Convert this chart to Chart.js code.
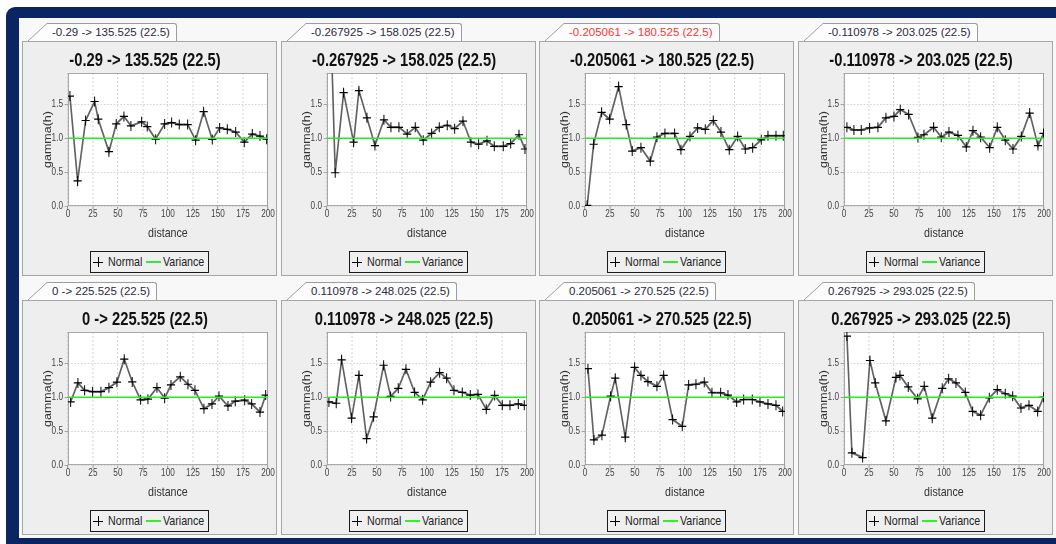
<!DOCTYPE html>
<html lang="en">
<head>
  <meta charset="UTF-8">
  <title>Variogram directions</title>
  <script src="https://cdn.jsdelivr.net/npm/chart.js"></script>
  <style>
    body { margin: 0; width: 1056px; height: 544px; overflow: hidden; background: #fff; position: relative; font-family: 'Liberation Sans', Arial, sans-serif; }
    .frame { position: absolute; left: 6px; top: 7px; width: 1100px; height: 600px; background: #0b2462; border-radius: 9px; }
    .desk { position: absolute; left: 19px; top: 18px; width: 1037px; height: 520px; background: #f8f8f8; }
    .panel { position: absolute; width: 255px; height: 235px; background: #eeeeee; box-shadow: inset 0 0 0 1px #a6a6a6; }
    .panel canvas { position: absolute; left: 0; top: 0; }
    .tab { position: absolute; left: 6px; top: -18px; height: 18px; display: flex; }
    .tab svg { display: block; }
    .tab span { display: block; height: 17px; line-height: 17px; padding: 0 6px 0 5px; background: #fdfdfd; border-top: 1px solid #9c9c9c; border-right: 1px solid #9c9c9c; border-top-right-radius: 3px; font-size: 11.5px; color: #2b2b3b; white-space: nowrap; }
    .tab.sel span { color: #ff3333; }
    .legend { position: absolute; left: 68px; top: 210px; width: 117px; height: 20px; border: 1px solid #1a1a1a; background: #efefef; font-size: 13px; color: #222; }
    .legend span { position: absolute; top: 0; line-height: 20px; white-space: nowrap; transform: scaleX(0.82); transform-origin: 0 50%; }
    .cross { position: absolute; left: 2px; top: 5px; width: 10px; height: 10px; background: linear-gradient(#000, #000) center / 10px 1px no-repeat, linear-gradient(#000, #000) center / 1px 10px no-repeat; }
    .gline { position: absolute; left: 55px; top: 9px; width: 15px; height: 2px; background: #33ee33; }
  </style>
</head>
<body>
  <div class="frame"></div>
  <div class="desk"></div>
  <div id="panels"></div>

  <script>
    const panelTitles = [
      '-0.29 -> 135.525 (22.5)', '-0.267925 -> 158.025 (22.5)', '-0.205061 -> 180.525 (22.5)', '-0.110978 -> 203.025 (22.5)',
      '0 -> 225.525 (22.5)', '0.110978 -> 248.025 (22.5)', '0.205061 -> 270.525 (22.5)', '0.267925 -> 293.025 (22.5)'
    ];
    const seriesNames = ['Normal', 'Variance'];
    const xTicks = [0, 25, 50, 75, 100, 125, 150, 175, 200];
    const yTicks = [0, 0.5, 1.0, 1.5];
    const varianceDist = [0, 200];
    const varianceGamma = [1, 1];

    const dist1 = [2, 9.7, 17.7, 26.7, 30.3, 41, 48.3, 56, 63, 73.7, 79.3, 87.7, 96.7, 103.7, 111.3, 119.7, 127.7, 135.7, 144.3, 151.7, 159.3, 167.7, 176.3, 184.3, 192, 198.7];
    const gam1 = [1.62, 0.37, 1.26, 1.54, 1.28, 0.80, 1.21, 1.32, 1.18, 1.24, 1.17, 0.985, 1.21, 1.23, 1.20, 1.20, 0.97, 1.39, 0.98, 1.15, 1.13, 1.09, 0.94, 1.06, 1.03, 0.985];

    const dist2 = [3, 8.3, 16.7, 26.7, 32, 40, 48, 57, 64, 72, 80.3, 88.3, 96.3, 104.7, 112.3, 120.3, 127.7, 136, 144, 151.7, 160, 167.3, 176.3, 183.7, 192, 198];
    const gam2 = [3.1, 0.49, 1.67, 0.94, 1.70, 1.30, 0.89, 1.27, 1.16, 1.16, 1.06, 1.16, 0.97, 1.07, 1.16, 1.19, 1.14, 1.25, 0.94, 0.91, 0.96, 0.88, 0.88, 0.92, 1.05, 0.84];

    const dist3 = [2.3, 8.7, 16.7, 24.7, 33.7, 41.3, 47.3, 56, 65.3, 72, 80, 89.7, 96, 105, 112.7, 120.3, 128.3, 136, 144.3, 152.7, 160.3, 167.7, 176.3, 183, 191, 198.3];
    const gam3 = [0.01, 0.91, 1.38, 1.28, 1.76, 1.20, 0.81, 0.86, 0.66, 1.015, 1.07, 1.07, 0.83, 1.025, 1.15, 1.13, 1.26, 1.09, 0.83, 1.025, 0.84, 0.86, 0.975, 1.035, 1.035, 1.035];

    const dist4 = [3, 10, 17.3, 25.7, 34, 42, 50, 56.3, 64.7, 74, 80, 89.7, 97.3, 105, 114, 122.3, 129, 136.7, 145.7, 153.3, 161.3, 169, 177.3, 185.7, 194, 199.5];
    const gam4 = [1.16, 1.12, 1.12, 1.15, 1.16, 1.30, 1.32, 1.42, 1.35, 1.01, 1.05, 1.16, 1.015, 1.09, 1.04, 0.87, 1.11, 1.015, 0.86, 1.16, 0.97, 0.84, 1.025, 1.37, 0.89, 1.07];

    const dist5 = [2.7, 10, 16.7, 24.7, 33, 41, 49, 56.3, 64.3, 72.7, 80, 89, 96.7, 103, 112.3, 120, 127, 136, 144, 151, 160, 167.3, 176.7, 183.7, 192, 197.7];
    const gam5 = [0.93, 1.21, 1.10, 1.08, 1.08, 1.14, 1.22, 1.56, 1.225, 0.96, 0.97, 1.14, 0.985, 1.18, 1.30, 1.19, 1.10, 0.83, 0.90, 1.015, 0.87, 0.94, 0.955, 0.90, 0.78, 1.03];

    const dist6 = [2, 9.3, 14.7, 24.7, 32, 39.7, 46.7, 56.7, 63.7, 71.3, 79, 87.7, 95.7, 103.7, 112.7, 119.7, 127, 135.3, 143.3, 151, 159.3, 167.7, 175.3, 183, 191.3, 197.3];
    const gam6 = [0.93, 0.91, 1.55, 0.69, 1.32, 0.39, 0.71, 1.47, 1.01, 1.13, 1.41, 1.07, 0.96, 1.22, 1.36, 1.28, 1.10, 1.07, 1.03, 1.04, 0.82, 1.025, 0.88, 0.88, 0.90, 0.88];

    const dist7 = [3, 9, 17, 25.7, 30.3, 40.3, 49.7, 56, 63, 72, 78.7, 87.7, 97.3, 103.7, 111, 119.3, 127, 135.7, 143, 151.7, 158.7, 167.3, 175, 183, 191, 197.7];
    const gam7 = [1.42, 0.37, 0.44, 1.015, 1.28, 0.41, 1.44, 1.32, 1.23, 1.16, 1.32, 0.67, 0.57, 1.18, 1.19, 1.22, 1.065, 1.065, 1.03, 0.93, 0.965, 0.965, 0.93, 0.90, 0.88, 0.79];

    const dist8 = [3, 8, 18.7, 26, 31.3, 42, 52, 56, 64.3, 73.7, 80.3, 88.3, 98.3, 104.7, 112, 121.3, 128.7, 136.7, 145.3, 153.3, 161.3, 168.7, 177, 185, 193.7, 199.5];
    const gam8 = [1.90, 0.18, 0.11, 1.54, 1.21, 0.65, 1.29, 1.32, 1.15, 0.975, 1.16, 0.69, 1.13, 1.27, 1.21, 1.07, 0.79, 0.735, 0.99, 1.11, 1.05, 1.015, 0.84, 0.88, 0.79, 1.00];

    const allDist = [dist1, dist2, dist3, dist4, dist5, dist6, dist7, dist8];
    const allGam = [gam1, gam2, gam3, gam4, gam5, gam6, gam7, gam8];

    Chart.defaults.font.family = "'Liberation Sans', Arial, sans-serif";
    Chart.defaults.color = '#333';

    // the original is a horizontally squeezed screenshot: lay the chart out
    // 311px wide, then draw it into 255 screen px
    const CW = 311, SW = 255, SH = 205;
    const squeeze = SW / CW;

    // white plot background + grey outline, like the JFreeChart plot
    const plotFrame = {
      id: 'plotFrame',
      beforeDraw(chart) {
        const { ctx, chartArea: a } = chart;
        ctx.save();
        ctx.fillStyle = '#fff';
        ctx.fillRect(a.left, a.top, a.width, a.height);
        ctx.restore();
      },
      beforeDatasetsDraw(chart) {
        const { ctx, chartArea: a } = chart;
        const vx = 1 / squeeze;
        ctx.save();
        ctx.strokeStyle = '#a0a0a0';
        ctx.lineWidth = 1;
        ctx.beginPath();
        ctx.moveTo(a.left, a.top + 0.5); ctx.lineTo(a.right, a.top + 0.5);
        ctx.moveTo(a.left, a.bottom - 0.5); ctx.lineTo(a.right, a.bottom - 0.5);
        ctx.stroke();
        ctx.lineWidth = vx;
        ctx.beginPath();
        ctx.moveTo(a.left + vx / 2, a.top); ctx.lineTo(a.left + vx / 2, a.bottom);
        ctx.moveTo(a.right - vx / 2, a.top); ctx.lineTo(a.right - vx / 2, a.bottom);
        ctx.stroke();
        ctx.restore();
      }
    };

    const panelLeft = [22, 281, 539, 798];
    const panelTop = [41, 300];
    const host = document.getElementById('panels');

    panelTitles.forEach((title, i) => {
      const panel = document.createElement('div');
      panel.className = 'panel';
      panel.style.left = panelLeft[i % 4] + 'px';
      panel.style.top = panelTop[Math.floor(i / 4)] + 'px';
      panel.innerHTML =
        `<div class="tab${i === 2 ? ' sel' : ''}">` +
        `<svg width="19" height="18"><path d="M0,18 L19,0.5 L19,18 Z" fill="#fdfdfd"/><path d="M0,18 L19,0.5" stroke="#9c9c9c" fill="none"/></svg>` +
        `<span>${title}</span></div>` +
        `<canvas width="${CW}" height="${SH}"></canvas>` +
        `<div class="legend"><div class="cross"></div><span style="left:17px">${seriesNames[0]}</span>` +
        `<div class="gline"></div><span style="left:72px">${seriesNames[1]}</span></div>`;
      host.appendChild(panel);

      const canvas = panel.querySelector('canvas');
      const chart = new Chart(canvas, {
        type: 'line',
        data: {
          datasets: [
            {
              label: seriesNames[0],
              data: allDist[i].map((d, k) => ({ x: d, y: allGam[i][k] })),
              borderColor: '#626262',
              borderWidth: 2,
              pointStyle: 'cross',
              pointRadius: 5,
              pointBorderColor: '#000',
              pointBorderWidth: 1.2,
              tension: 0,
              order: 1
            },
            {
              label: seriesNames[1],
              data: varianceDist.map((d, k) => ({ x: d, y: varianceGamma[k] })),
              borderColor: '#22ee22',
              borderWidth: 1.5,
              pointRadius: 0,
              order: 0
            }
          ]
        },
        options: {
          responsive: false,
          animation: false,
          events: [],
          layout: { padding: { left: 0, right: 11, top: 0, bottom: 0 } },
          plugins: {
            legend: { display: false },
            tooltip: { enabled: false },
            title: {
              display: true,
              text: title,
              color: '#111',
              font: { size: 18, weight: 'bold', lineHeight: 1.2 },
              padding: { top: 9, bottom: 1.4 }
            }
          },
          scales: {
            x: {
              type: 'linear',
              min: 0,
              max: 200,
              afterBuildTicks: s => { s.ticks = xTicks.map(v => ({ value: v })); },
              afterFit: s => { s.height = 40; },
              ticks: { autoSkip: false, maxRotation: 0, padding: 0, color: '#444', font: { size: 10, lineHeight: 1 } },
              grid: { color: '#d4d4d4', lineWidth: 1.2, tickColor: '#999', tickLength: 3, tickBorderDash: [] },
              border: { display: false, dash: [2, 2] },
              title: { display: true, text: 'distance', color: '#333', font: { size: 13 }, padding: { top: 0, bottom: 5 } }
            },
            y: {
              min: 0,
              max: 1.96,
              afterBuildTicks: s => { s.ticks = yTicks.map(v => ({ value: v })); },
              afterFit: s => { s.width = 56; },
              ticks: { padding: 2, color: '#444', font: { size: 10 }, callback: v => v.toFixed(1) },
              grid: { color: '#d4d4d4', tickColor: '#999', tickLength: 4, tickBorderDash: [] },
              border: { display: false, dash: [2, 2] },
              title: { display: true, text: 'gamma(h)', color: '#333', font: { size: 12.5 }, padding: { top: 24, bottom: 0 } }
            }
          }
        },
        plugins: [plotFrame]
      });

      // redraw the laid-out chart squeezed into the real panel width
      canvas.width = SW;
      canvas.style.width = SW + 'px';
      canvas.style.height = SH + 'px';
      chart.ctx.setTransform(squeeze, 0, 0, 1, 0, 0);
      chart.draw();
    });
  </script>
</body>
</html>
